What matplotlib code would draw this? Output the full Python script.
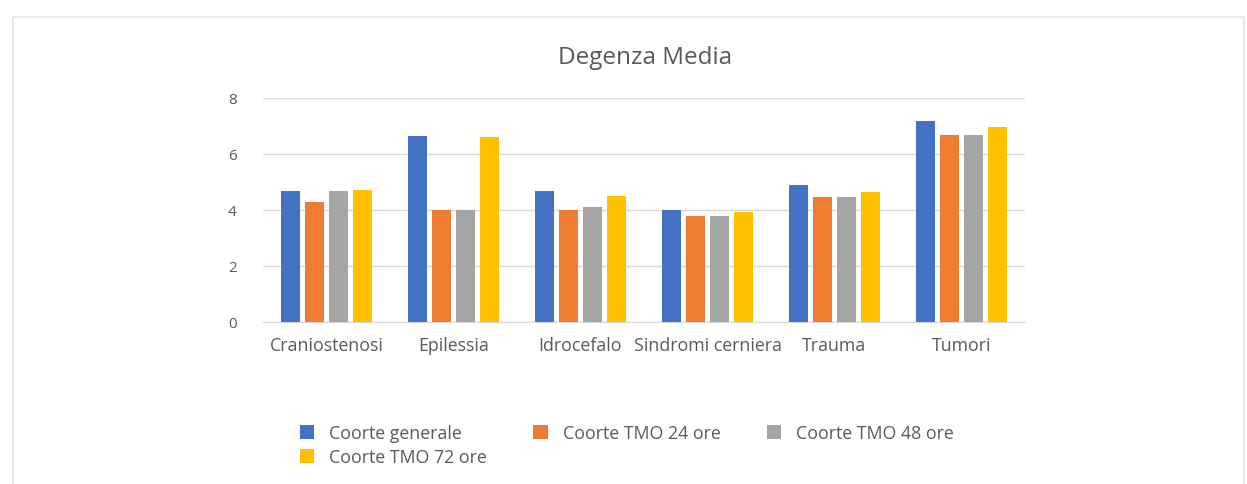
import matplotlib
matplotlib.use("Agg")
import matplotlib.pyplot as plt
from matplotlib.patches import Rectangle
import numpy as np

plt.rcParams['font.family'] = ['Open Sans', 'DejaVu Sans']

categories = ["Craniostenosi", "Epilessia", "Idrocefalo", "Sindromi cerniera", "Trauma", "Tumori"]
series_names = ["Coorte generale", "Coorte TMO 24 ore", "Coorte TMO 48 ore", "Coorte TMO 72 ore"]
coorte_generale = [4.67, 6.63, 4.67, 4.0, 4.89, 7.19]
tmo_24 = [4.27, 4.0, 4.0, 3.77, 4.48, 6.69]
tmo_48 = [4.67, 4.0, 4.1, 3.77, 4.48, 6.69]
tmo_72 = [4.71, 6.6, 4.49, 3.92, 4.65, 6.95]
y_ticks = [0, 2, 4, 6, 8]

colors = ["#4472C4", "#ED7D31", "#A5A5A5", "#FFC000"]
text_color = "#595959"

W, H = 1247, 485
fig = plt.figure(figsize=(W / 100, H / 100), dpi=100)
fig.patch.set_facecolor("white")

# faint chart-area frame
fig.patches.append(Rectangle((13 / W, -0.01), 1231 / W, 1 - 18 / H + 0.01,
                             transform=fig.transFigure, fill=False,
                             edgecolor="#E4E4E4", linewidth=1.2))

ax = fig.add_axes([263 / W, 1 - 323 / H, 762 / W, 224 / H])

x = np.arange(len(categories))
pitch = 0.189
width = 0.142
all_series = [coorte_generale, tmo_24, tmo_48, tmo_72]
handles = []
for i, (vals, col, name) in enumerate(zip(all_series, colors, series_names)):
    offs = (i - 1.5) * pitch
    b = ax.bar(x + offs, vals, width=width, color=col, label=name, zorder=3)
    handles.append(b)

ax.set_xlim(-0.5, len(categories) - 0.5)
ax.set_ylim(0, 8)
ax.set_yticks(y_ticks)
ax.set_yticklabels([str(t) for t in y_ticks])
ax.yaxis.grid(True, color="#D9D9D9", linewidth=1.0, zorder=0)
ax.set_axisbelow(True)
for s in ["top", "right", "left"]:
    ax.spines[s].set_visible(False)
ax.spines["bottom"].set_color("#D9D9D9")
ax.tick_params(axis="both", length=0)
ax.tick_params(axis="y", labelsize=11, labelcolor=text_color, pad=19)
ax.set_xticks(x)
ax.set_xticklabels(categories, fontsize=12.8, color=text_color)
ax.tick_params(axis="x", pad=10)

fig.text(645 / W, 1 - 58 / H, "Degenza Media", ha="center", va="center",
         fontsize=17.5, color=text_color)

# row-major legend order for three columns
order = [0, 3, 1, 2]
leg = fig.legend([handles[i] for i in order], [series_names[i] for i in order],
                 ncol=3, loc="upper left", bbox_to_anchor=(300 / W, 1 - 425 / H),
                 frameon=False, fontsize=12.8, labelcolor=text_color,
                 borderpad=0, borderaxespad=0,
                 handlelength=0.8, handleheight=0.8, handletextpad=0.85,
                 columnspacing=2.6, labelspacing=0.35)

fig.savefig("out.png", dpi=100, facecolor="white")
